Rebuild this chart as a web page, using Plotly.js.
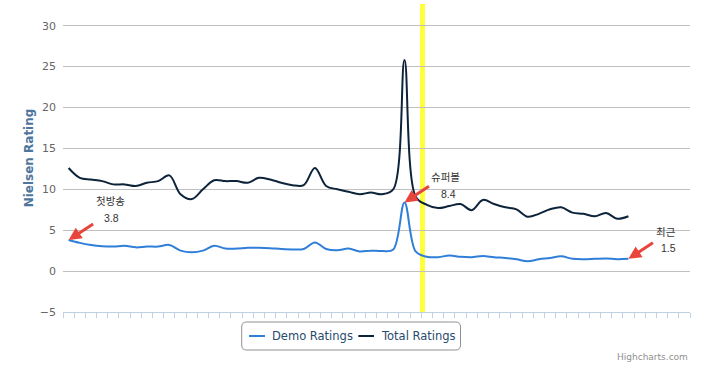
<!DOCTYPE html>
<html>
<head>
<meta charset="utf-8">
<script src="https://cdn.plot.ly/plotly-3.0.1.min.js"></script>
<style>
  html, body { margin: 0; padding: 0; background: #fff; }
  #chart { width: 707px; height: 368px; }
</style>
</head>
<body>
<div id="chart"></div>
<script>
// Nielsen ratings per episode
const demoRatings = [3.8, 3.45, 3.2, 3.05, 3.0, 3.1, 2.9, 3.0, 3.0, 3.2, 2.5, 2.3, 2.5, 3.1, 2.75, 2.75, 2.85, 2.85, 2.8, 2.7, 2.65, 2.7, 3.5, 2.7, 2.55, 2.75, 2.4, 2.5, 2.45, 2.65, 8.4, 2.4, 1.75, 1.7, 1.9, 1.75, 1.7, 1.85, 1.7, 1.6, 1.45, 1.2, 1.45, 1.6, 1.8, 1.5, 1.45, 1.5, 1.55, 1.45, 1.5];
const totalRatings = [12.6, 11.4, 11.2, 11.0, 10.6, 10.6, 10.4, 10.8, 11.0, 11.7, 9.4, 8.8, 10.0, 11.1, 11.0, 11.0, 10.8, 11.4, 11.2, 10.8, 10.5, 10.5, 12.6, 10.4, 10.0, 9.7, 9.4, 9.6, 9.4, 10.0, 25.8, 9.1, 8.1, 7.7, 7.95, 8.2, 7.45, 8.7, 8.2, 7.8, 7.55, 6.65, 7.0, 7.55, 7.8, 7.15, 7.0, 6.7, 7.1, 6.4, 6.7];
const categoryCount = 56;
const seriesNames = ['Demo Ratings', 'Total Ratings'];
const seriesColors = ['#2f7ed8', '#0d233a'];
const yAxisTitle = 'Nielsen Rating';
const highlightBand = [31.39, 31.83];
// annotated points: [index, label]
const callouts = [[0, '첫방송'], [30, '슈퍼볼'], [50, '최근']];

const xIdx = demoRatings.map((_, i) => i);
const tickPositions = [];
for (let i = 0; i <= categoryCount; i++) tickPositions.push(i - 0.5);

const FONT = 'DejaVu Sans, Noto Sans CJK KR, sans-serif';
const LABEL_FONT = 'Liberation Sans, Noto Sans CJK KR, sans-serif';

const traces = [demoRatings, totalRatings].map((vals, k) => ({
  x: xIdx, y: vals, name: seriesNames[k], type: 'scatter', mode: 'lines',
  line: { color: seriesColors[k], width: 2, shape: 'spline', smoothing: 1 },
  hoverinfo: 'skip', showlegend: false
}));

const annotations = [];
const labelOffsets = [
  { nx: 42, ny: 39, vx: 43, vy: 22 },
  { nx: 41, ny: 25, vx: 43.7, vy: 8.3 },
  { nx: 38, ny: 27, vx: 40, vy: 10.4 }
];
callouts.forEach(([i, label], k) => {
  const v = demoRatings[i];
  const o = labelOffsets[k];
  annotations.push({
    x: i, y: v, xref: 'x', yref: 'y', text: '', showarrow: true,
    ax: 26, ay: -17, arrowcolor: '#e8453c', arrowwidth: 3, arrowhead: 2, arrowsize: 0.85,
    standoff: 0, startstandoff: 0
  });
  annotations.push({
    x: i, y: v, xref: 'x', yref: 'y', text: label, showarrow: false,
    xshift: o.nx, yshift: o.ny, font: { family: LABEL_FONT, size: 10.5, color: '#333333' }
  });
  annotations.push({
    x: i, y: v, xref: 'x', yref: 'y', text: String(v), showarrow: false,
    xshift: o.vx, yshift: o.vy, font: { family: LABEL_FONT, size: 10.5, color: '#333333' }
  });
});
annotations.push({
  xref: 'paper', yref: 'paper', x: 1, y: -0.146, xanchor: 'right', yanchor: 'middle',
  text: 'Highcharts.com', showarrow: false, font: { family: FONT, size: 9, color: '#909090' }
});

// legend (drawn as paper-positioned symbols + text)
const legendItems = [
  { sx0: 0.2967, sx1: 0.3222, tx: 0.3305 },
  { sx0: 0.4710, sx1: 0.4960, tx: 0.5040 }
];
const legendY = -0.0779;
const shapes = [
  {
    type: 'rect', xref: 'x', yref: 'paper', x0: highlightBand[0], x1: highlightBand[1], y0: 0, y1: 1,
    fillcolor: '#ffff3c', line: { width: 0 }, layer: 'between'
  }
];
legendItems.forEach((it, k) => {
  shapes.push({
    type: 'line', xref: 'paper', yref: 'paper', x0: it.sx0, x1: it.sx1, y0: legendY, y1: legendY,
    line: { color: seriesColors[k], width: 2 }
  });
  annotations.push({
    xref: 'paper', yref: 'paper', x: it.tx, y: legendY, xanchor: 'left', yanchor: 'middle',
    text: seriesNames[k], showarrow: false, font: { family: FONT, size: 11.5, color: '#274b6d' }
  });
});

// rounded legend border (paper coords)
const lx0 = 0.285, lx1 = 0.634, ly0 = -0.1234, ly1 = -0.0325, rx = 0.008, ry = 0.0162;
const legendPath = `M${lx0 + rx},${ly0} L${lx1 - rx},${ly0} Q${lx1},${ly0} ${lx1},${ly0 + ry} L${lx1},${ly1 - ry} Q${lx1},${ly1} ${lx1 - rx},${ly1} L${lx0 + rx},${ly1} Q${lx0},${ly1} ${lx0},${ly1 - ry} L${lx0},${ly0 + ry} Q${lx0},${ly0} ${lx0 + rx},${ly0} Z`;
shapes.push({
  type: 'path', xref: 'paper', yref: 'paper', path: legendPath,
  line: { color: '#909090', width: 1 }, fillcolor: 'rgba(0,0,0,0)'
});

const layout = {
  width: 707, height: 368,
  margin: { l: 63, r: 17, t: 4, b: 56 },
  paper_bgcolor: '#ffffff', plot_bgcolor: '#ffffff',
  font: { family: FONT },
  showlegend: false,
  xaxis: {
    range: [-0.5, categoryCount - 0.5], tickmode: 'array', tickvals: tickPositions,
    showticklabels: false, ticks: 'outside', ticklen: 5, tickcolor: '#C0D0E0',
    showline: true, linecolor: '#C0D0E0', linewidth: 1, showgrid: false, zeroline: false,
    fixedrange: true
  },
  yaxis: {
    range: [-5, 32.65], tick0: 0, dtick: 5, showgrid: true, gridcolor: '#C0C0C0', gridwidth: 1,
    zeroline: false, showline: false, ticks: '',
    tickfont: { family: FONT, size: 11, color: '#666666' }, ticklabelstandoff: 6,
    title: { text: yAxisTitle, font: { family: FONT, size: 12, color: '#4d759e', weight: 'bold' }, standoff: 3 },
    fixedrange: true
  },
  shapes: shapes,
  annotations: annotations
};

Plotly.newPlot('chart', traces, layout, { displayModeBar: false, staticPlot: true });
</script>
</body>
</html>
